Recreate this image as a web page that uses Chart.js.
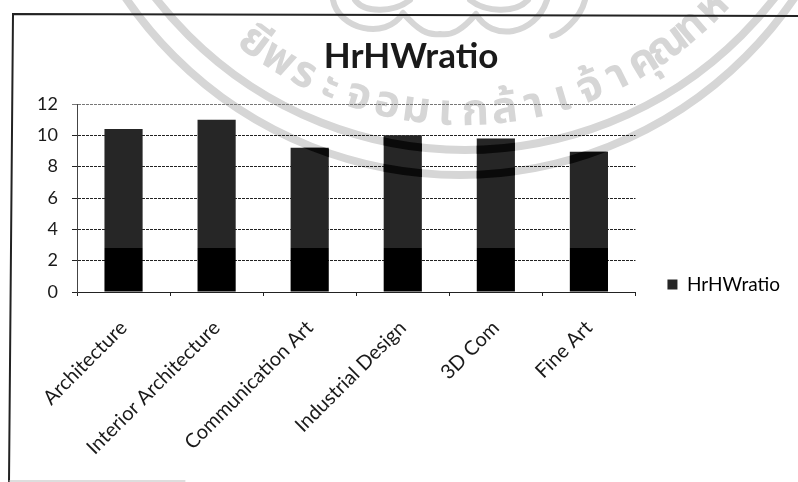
<!DOCTYPE html>
<html>
<head>
<meta charset="utf-8">
<title>HrHWratio</title>
<script src="https://cdn.jsdelivr.net/npm/chart.js@4"></script>
<style>
html, body { margin: 0; padding: 0; background: #fff; }
#wrap { width: 798px; height: 482px; }
</style>
</head>
<body>
<div id="wrap"><canvas id="chartRatio" width="798" height="482"></canvas></div>
<script>
var chartTitle = "HrHWratio";
var categories = ["Architecture", "Interior Architecture", "Communication Art", "Industrial Design", "3D Com", "Fine Art"];
var ratioValues = [10.4, 11, 9.2, 10, 9.8, 8.95];
var yTicks = [0, 2, 4, 6, 8, 10, 12];
var darkBandTop = 2.84; // the lower part of every bar is printed darker
var sealText = "ยีพระจอมเกล้าเจ้าคุณทห";
var fontName = "Lato, Carlito, 'Open Sans', sans-serif";
var sealGrey = "#d6d6d6";

// grey seal stamped behind the chart
function sealBands(ctx) {
	ctx.lineWidth = 8;
	ctx.beginPath();
	ctx.arc(460, -229, 404, 0, Math.PI);
	ctx.stroke();
	ctx.beginPath();
	ctx.arc(465, -241, 391, 0, Math.PI);
	ctx.stroke();
}

function sealScrolls(ctx) {
	ctx.lineWidth = 6;
	ctx.lineCap = "round";
	ctx.beginPath();
	ctx.moveTo(333, 0);
	ctx.bezierCurveTo(338, 28, 385, 42, 403, 13);
	ctx.moveTo(403, 13);
	ctx.bezierCurveTo(418, 30, 428, 36, 440, 34);
	ctx.bezierCurveTo(452, 36, 462, 30, 476, 14);
	ctx.moveTo(476, 14);
	ctx.bezierCurveTo(492, 42, 535, 36, 547, 0);
	ctx.moveTo(355, 0);
	ctx.bezierCurveTo(365, 14, 395, 12, 410, 0);
	ctx.moveTo(470, 0);
	ctx.bezierCurveTo(485, 12, 515, 14, 528, 0);
	ctx.moveTo(585, 0);
	ctx.bezierCurveTo(580, 20, 560, 35, 552, 36);
	ctx.stroke();
}

function sealLetters(ctx) {
	var segs = Array.from(new Intl.Segmenter("th", { granularity: "grapheme" }).segment(sealText)).map(function(s) { return s.segment; });
	var radius = 360;
	var step = 0.085;
	var startAngle = -0.645;
	ctx.save();
	ctx.fillStyle = sealGrey;
	ctx.font = "bold 44px 'Noto Sans Thai', 'Noto Sans', sans-serif";
	ctx.textAlign = "center";
	for (var i = 0; i < segs.length; i++) {
		var a = startAngle + i * step;
		ctx.save();
		ctx.translate(463 + Math.sin(a) * radius, -235 + Math.cos(a) * radius);
		ctx.rotate(-a);
		ctx.fillText(segs[i], 0, 0);
		ctx.restore();
	}
	ctx.restore();
}

var scanPlugin = {
	id: "scanPlugin",
	afterLayout: function(chart) {
		// legend sits at the foot of the plot, not of the page
		chart.legend.bottom = chart.chartArea.bottom + 34;
		// title is centred a little right of the page centre
		chart.titleBlock.left += 32;
	},
	beforeDraw: function(chart) {
		var ctx = chart.ctx;
		ctx.save();
		ctx.fillStyle = "#fff";
		ctx.fillRect(0, 0, chart.width, chart.height);
		ctx.strokeStyle = sealGrey;
		sealBands(ctx);
		sealScrolls(ctx);
		sealLetters(ctx);
		// page frame
		ctx.strokeStyle = "#222";
		ctx.lineWidth = 2;
		ctx.beginPath();
		ctx.moveTo(798, 16);
		ctx.lineTo(13, 14);
		ctx.lineTo(9, 482);
		ctx.stroke();
		ctx.strokeStyle = "#bbb";
		ctx.lineWidth = 1;
		ctx.beginPath();
		ctx.moveTo(9, 481);
		ctx.lineTo(185, 481);
		ctx.stroke();
		ctx.restore();
	},
	afterDatasetsDraw: function(chart) {
		// seal bands show up black where they cross the bars
		var ctx = chart.ctx;
		var bars = chart.getDatasetMeta(0).data;
		ctx.save();
		ctx.beginPath();
		bars.forEach(function(b) {
			ctx.rect(b.x - b.width / 2, b.y, b.width, b.base - b.y);
		});
		ctx.clip();
		ctx.strokeStyle = "#0a0a0a";
		sealBands(ctx);
		ctx.restore();
	}
};

function barFill(context) {
	var chart = context.chart;
	if (!chart.chartArea) return "#262626";
	var y = chart.scales.y;
	var stop = y.getPixelForValue(darkBandTop);
	var g = chart.ctx.createLinearGradient(0, y.top, 0, y.bottom);
	var t = (stop - y.top) / (y.bottom - y.top);
	g.addColorStop(0, "#262626");
	g.addColorStop(t, "#262626");
	g.addColorStop(t, "#000000");
	g.addColorStop(1, "#000000");
	return g;
}

var ctxRatio = document.getElementById("chartRatio").getContext("2d");
var chartRatio = new Chart(ctxRatio, {
	type: "bar",
	plugins: [scanPlugin],
	data: {
		labels: categories,
		datasets: [{
			label: chartTitle,
			data: ratioValues,
			backgroundColor: barFill,
			borderWidth: 0,
			categoryPercentage: 1,
			barPercentage: 0.41
		}]
	},
	options: {
		responsive: false,
		animation: false,
		layout: { padding: { left: 0, right: 8, top: 0, bottom: 0 } },
		plugins: {
			title: {
				display: true,
				text: chartTitle,
				color: "#1a1a1a",
				font: { family: fontName, size: 35, weight: "bold" },
				padding: { top: 36, bottom: 26 }
			},
			legend: {
				position: "right",
				align: "end",
				labels: {
					color: "#1a1a1a",
					font: { family: fontName, size: 19 },
					boxWidth: 10,
					boxHeight: 10,
					padding: 32,
					generateLabels: function() {
						return [{ text: chartTitle, fillStyle: "#262626", strokeStyle: "#262626", lineWidth: 0, hidden: false, datasetIndex: 0 }];
					}
				}
			},
			tooltip: { enabled: false }
		},
		scales: {
			x: {
				afterFit: function(scale) { scale.height = 190; },
				grid: { display: true, drawOnChartArea: false, drawTicks: true, tickLength: 4, color: "#222" },
				border: { color: "#222", dash: [3, 1] },
				ticks: {
					color: "#1a1a1a",
					font: { family: fontName, size: 20 },
					maxRotation: 45,
					minRotation: 45,
					autoSkip: false,
					padding: 20
				}
			},
			y: {
				min: yTicks[0],
				max: yTicks[yTicks.length - 1],
				afterFit: function(scale) { scale.width = 77; },
				grid: {
					color: function(c) { return c.tick.value == 12 ? "#777" : "#222"; },
					lineWidth: 1,
					tickLength: 5
				},
				border: { color: "#444", dash: [3, 1], display: true },
				ticks: {
					stepSize: 2,
					color: "#1a1a1a",
					font: { family: fontName, size: 18 },
					padding: 14
				}
			}
		}
	}
});
</script>
</body>
</html>
